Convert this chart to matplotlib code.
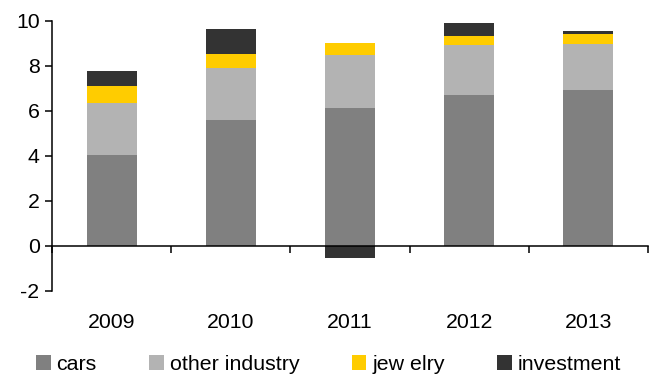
import numpy as np
import matplotlib
matplotlib.use("Agg")
import matplotlib.pyplot as plt
from matplotlib.patches import Patch

plt.rcParams['font.family'] = ['Liberation Sans', 'DejaVu Sans']
plt.rcParams['axes.unicode_minus'] = False

years = ['2009', '2010', '2011', '2012', '2013']
cars = [4.04, 5.58, 6.15, 6.73, 6.95]
other_industry = [2.33, 2.35, 2.35, 2.21, 2.03]
jewelry = [0.75, 0.62, 0.53, 0.40, 0.44]
investment = [0.67, 1.10, -0.52, 0.57, 0.14]

series_names = ['cars', 'other industry', 'jew elry', 'investment']
series_colors = ['#808080', '#b3b3b3', '#ffcc00', '#333333']

fig = plt.figure(figsize=(6.56, 3.74), dpi=100)
ax = fig.add_axes([0.0793, 0.222, 0.9085, 0.722])

x = np.arange(len(years))
pos_base = np.zeros(len(years))
neg_base = np.zeros(len(years))
for vals, color in zip([cars, other_industry, jewelry, investment], series_colors):
    v = np.array(vals)
    bottom = np.where(v >= 0, pos_base, neg_base)
    ax.bar(x, v, bottom=bottom, width=0.42, color=color, linewidth=0, zorder=2)
    pos_base = pos_base + np.where(v >= 0, v, 0)
    neg_base = neg_base + np.where(v < 0, v, 0)

ax.set_xlim(-0.5, len(years) - 0.5)
ax.set_ylim(-2, 10)
ax.set_yticks(np.arange(-2, 11, 2))

for side in ['top', 'right']:
    ax.spines[side].set_visible(False)
ax.spines['bottom'].set_position(('data', 0))
ax.spines['bottom'].set_zorder(3)
for side in ['left', 'bottom']:
    ax.spines[side].set_linewidth(1.1)
    ax.spines[side].set_color('#000000')

# category labels below the plot, separator ticks on the zero line
ax.set_xticks(x)
ax.set_xticklabels(years)
ax.set_xticks(np.arange(-0.5, len(years), 1.0), minor=True)
ax.tick_params(axis='x', which='major', length=0, pad=48.5, labelsize=15.3)
ax.tick_params(axis='x', which='minor', direction='out', length=5, width=1.1)
ax.tick_params(axis='y', direction='out', length=5, width=1.1, pad=4, labelsize=15.3)

handles = [Patch(facecolor=c, edgecolor='none') for c in series_colors]
fig.legend(handles, series_names, loc='center left',
           bbox_to_anchor=(0.0549, 0.026), ncol=4, frameon=False,
           fontsize=15.4, handlelength=0.68, handleheight=0.68,
           handletextpad=0.28, columnspacing=2.45, borderpad=0,
           borderaxespad=0)

fig.savefig('out.png', dpi=100)
